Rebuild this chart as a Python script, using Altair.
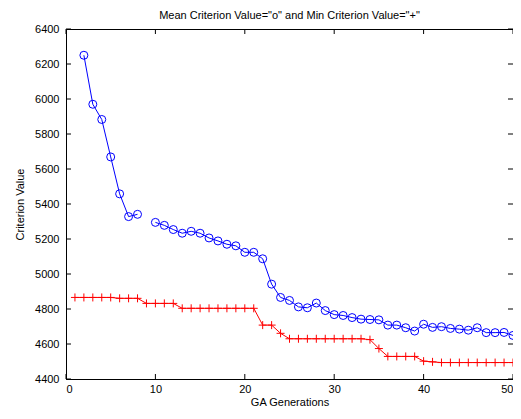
import altair as alt
import pandas as pd

generations = list(range(1, 51))
mean_values = [None, 6250, 5970, 5883, 5669, 5458, 5328, 5341, None, 5295,
               5278, 5254, 5233, 5244, 5233, 5206, 5189, 5170, 5161, 5124,
               5124, 5087, 4942, 4866, 4849, 4812, 4807, 4834, 4791, 4768,
               4763, 4751, 4742, 4740, 4738, 4708, 4708, 4693, 4674, 4713,
               4695, 4699, 4689, 4685, 4679, 4693, 4665, 4665, 4666, 4649]
min_values = [4866, 4866, 4866, 4866, 4866, 4861, 4861, 4861, 4832, 4832,
              4832, 4832, 4804, 4804, 4804, 4804, 4804, 4804, 4804, 4804,
              4804, 4708, 4708, 4661, 4630, 4630, 4630, 4630, 4630, 4630,
              4630, 4630, 4630, 4625, 4574, 4529, 4529, 4529, 4529, 4502,
              4498, 4494, 4494, 4494, 4494, 4494, 4494, 4494, 4494, 4494]
x_ticks = [0, 10, 20, 30, 40, 50]
y_ticks = [4400, 4600, 4800, 5000, 5200, 5400, 5600, 5800, 6000, 6200, 6400]

W, H = 447, 350
FONT = "Liberation Sans"

seg = []
s = 0
for v in mean_values:
    if v is None:
        s += 1
    seg.append(s)
mean_df = pd.DataFrame({"gen": generations, "val": mean_values, "seg": seg})
mean_df = mean_df[mean_df["val"].notna()]
min_df = pd.DataFrame({"gen": generations, "val": min_values})
xt_df = pd.DataFrame({"gen": x_ticks})
yt_df = pd.DataFrame({"val": y_ticks})

xscale = alt.Scale(domain=[0, 50], nice=False, zero=False)
yscale = alt.Scale(domain=[4400, 6400], nice=False, zero=False)

xaxis = alt.Axis(values=x_ticks, format="d", title="GA Generations", grid=False, ticks=False,
                 tickSize=0, labelPadding=4, titlePadding=2, domainColor="black")
yaxis = alt.Axis(values=y_ticks, format="d", title="Criterion Value", grid=False, ticks=False,
                 tickSize=0, labelPadding=7, titlePadding=9, domainColor="black")

X = alt.X("gen:Q", scale=xscale, axis=xaxis)
Y = alt.Y("val:Q", scale=yscale, axis=yaxis)

mean_line = alt.Chart(mean_df).mark_line(color="#0000FF", strokeWidth=1).encode(
    x=X, y=Y, detail="seg:N")
mean_pts = alt.Chart(mean_df).mark_point(shape="circle", size=64, filled=False,
                                         color="#0000FF", strokeWidth=1, opacity=1).encode(x=X, y=Y)
min_line = alt.Chart(min_df).mark_line(color="#FF0000", strokeWidth=1).encode(x=X, y=Y)
min_pts = alt.Chart(min_df).mark_point(shape="M-1,0L1,0M0,-1L0,1", size=64, filled=False,
                                       color="#FF0000", strokeWidth=1, opacity=1).encode(x=X, y=Y)

xt = alt.X("gen:Q", scale=xscale, axis=xaxis)
yt = alt.Y("val:Q", scale=yscale, axis=yaxis)
tick_bottom = alt.Chart(xt_df).mark_rule(color="black").encode(x=xt, y=alt.value(H), y2=alt.value(H - 5))
tick_top = alt.Chart(xt_df).mark_rule(color="black").encode(x=xt, y=alt.value(0), y2=alt.value(5))
tick_left = alt.Chart(yt_df).mark_rule(color="black").encode(y=yt, x=alt.value(0), x2=alt.value(5))
tick_right = alt.Chart(yt_df).mark_rule(color="black").encode(y=yt, x=alt.value(W), x2=alt.value(W - 5))

chart = alt.layer(
    mean_line, mean_pts, min_line, min_pts,
    tick_bottom, tick_top, tick_left, tick_right,
).properties(
    width=W, height=H,
    title=alt.TitleParams('Mean Criterion Value="o" and Min Criterion Value="+"',
                          font=FONT, fontSize=11, fontWeight="normal", color="black",
                          anchor="middle", offset=2),
    autosize=alt.AutoSizeParams(type="none"),
    padding={"left": 58, "top": 21, "right": 0, "bottom": 28},
).configure_view(
    stroke="black", strokeWidth=1
).configure_axis(
    labelFont=FONT, labelFontSize=11, labelColor="black",
    titleFont=FONT, titleFontSize=11, titleFontWeight="normal", titleColor="black",
    domainColor="black", domainWidth=1
)

chart.save("out.html", embed_options={"renderer": "svg", "actions": False})
